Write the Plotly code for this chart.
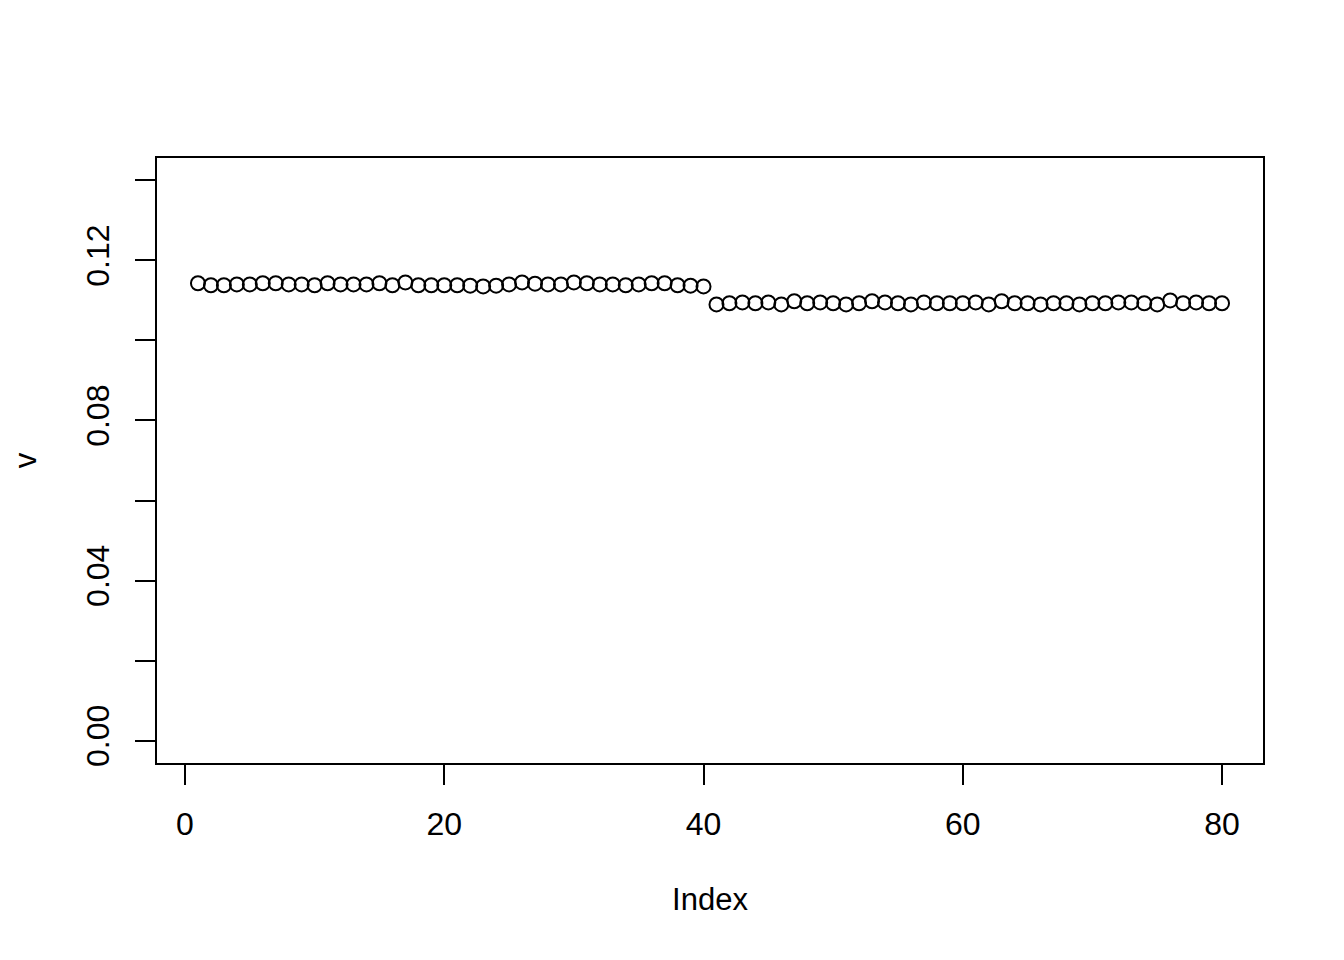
import plotly.graph_objects as go

index = list(range(1, 81))
v = [
    0.1143, 0.1138, 0.1138, 0.1140, 0.1140, 0.1143, 0.1143, 0.1140, 0.1140, 0.1138,
    0.1143, 0.1140, 0.1140, 0.1140, 0.1143, 0.1138, 0.1145, 0.1138, 0.1138, 0.1138,
    0.1138, 0.1137, 0.1135, 0.1137, 0.1140, 0.1145, 0.1142, 0.1140, 0.1140, 0.1145,
    0.1143, 0.1140, 0.1140, 0.1138, 0.1140, 0.1143, 0.1143, 0.1138, 0.1137, 0.1135,
    0.1090, 0.1093, 0.1095, 0.1093, 0.1095, 0.1090, 0.1098, 0.1093, 0.1095, 0.1093,
    0.1090, 0.1093, 0.1098, 0.1095, 0.1093, 0.1090, 0.1095, 0.1093, 0.1093, 0.1093,
    0.1095, 0.1090, 0.1098, 0.1093, 0.1093, 0.1090, 0.1093, 0.1093, 0.1090, 0.1093,
    0.1093, 0.1095, 0.1095, 0.1093, 0.1090, 0.1100, 0.1093, 0.1095, 0.1093, 0.1093,
]

x_ticks = [0, 20, 40, 60, 80]
y_ticks = [0.00, 0.02, 0.04, 0.06, 0.08, 0.10, 0.12, 0.14]
y_labels = ["0.00", "", "0.04", "", "0.08", "", "0.12", ""]

font = "Liberation Sans, Arial, Helvetica, sans-serif"

fig = go.Figure(
    go.Scatter(
        x=index, y=v, mode="markers",
        marker=dict(symbol="circle-open", size=14, color="black", line=dict(width=2, color="black")),
    )
)

fig.update_layout(
    width=1344, height=960,
    margin=dict(l=149, r=89, t=150, b=205),
    paper_bgcolor="white", plot_bgcolor="white",
    showlegend=False,
    font=dict(family=font, size=32, color="black"),
)

fig.update_xaxes(
    range=[-2.16, 83.16], tickvals=x_ticks, ticktext=[str(t) for t in x_ticks],
    showgrid=False, zeroline=False,
    showline=True, mirror=True, linecolor="black", linewidth=2,
    ticks="outside", ticklen=20, tickwidth=2, tickcolor="black",
    ticklabelstandoff=12,
    title=dict(text="Index", standoff=47, font=dict(size=31)),
)
fig.update_yaxes(
    range=[-0.0056, 0.1456], tickvals=y_ticks, ticktext=y_labels,
    tickangle=-90,
    showgrid=False, zeroline=False,
    showline=True, mirror=True, linecolor="black", linewidth=2,
    ticks="outside", ticklen=20, tickwidth=2, tickcolor="black",
    ticklabelstandoff=13,
    title=dict(text="v", standoff=40, font=dict(size=31)),
)

fig.write_html("out.html")
